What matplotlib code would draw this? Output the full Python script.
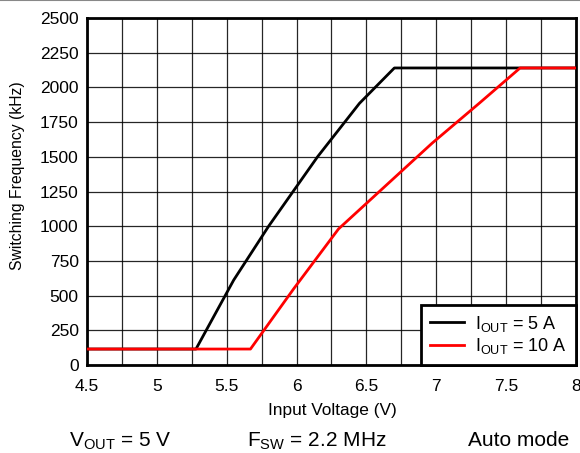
import matplotlib
matplotlib.use("Agg")
import matplotlib.pyplot as plt
from matplotlib.lines import Line2D
import numpy as np

plt.rcParams['font.family'] = ['Liberation Sans', 'DejaVu Sans']
plt.rcParams['mathtext.fontset'] = 'custom'
plt.rcParams['mathtext.rm'] = 'Liberation Sans'
plt.rcParams['mathtext.it'] = 'Liberation Sans'

# Data
vin_5a = [4.5, 5.28, 5.55, 5.8, 6.15, 6.45, 6.7, 8.0]
fsw_5a = [115, 115, 612, 1000, 1500, 1885, 2140, 2140]
vin_10a = [4.5, 5.67, 5.98, 6.3, 6.97, 7.31, 7.6, 8.0]
fsw_10a = [115, 115, 550, 980, 1598, 1888, 2140, 2140]
labels = [r'I$_{\mathrm{OUT}}$ = 5 A', r'I$_{\mathrm{OUT}}$ = 10 A']
xticks = [4.5, 5, 5.5, 6, 6.5, 7, 7.5, 8]
xticklabels = ['4.5', '5', '5.5', '6', '6.5', '7', '7.5', '8']
yticks = [0, 250, 500, 750, 1000, 1250, 1500, 1750, 2000, 2250, 2500]

fig = plt.figure(figsize=(5.8, 4.53), dpi=100)
ax = fig.add_axes([87/580, 1-365/453, (576-87)/580, (365-18)/453])

ax.plot(vin_5a, fsw_5a, color='black', lw=2, label=labels[0], zorder=3)
ax.plot(vin_10a, fsw_10a, color='#ff0000', lw=2, label=labels[1], zorder=3)

ax.set_xlim(4.5, 8)
ax.set_ylim(0, 2500)
ax.set_xticks(xticks)
ax.set_xticklabels(xticklabels)
ax.set_xticks(np.arange(4.5, 8.01, 0.25), minor=True)
ax.set_yticks(yticks)
ax.tick_params(axis='both', which='both', length=0, labelsize=12.5)
ax.tick_params(axis='x', pad=10)
ax.tick_params(axis='y', pad=6)
ax.grid(True, which='both', color='black', lw=0.9, alpha=0.85)
ax.set_axisbelow(True)
for s in ax.spines.values():
    s.set_linewidth(2)
ax.set_xlabel('Input Voltage (V)', fontsize=12.4)
ax.set_ylabel('Switching Frequency (kHz)', fontsize=11.3)
ax.xaxis.set_label_coords(332/580, 1-410/453, transform=fig.transFigure)
ax.xaxis.label.set_va('center')
ax.yaxis.set_label_coords(18/580, 1-176/453, transform=fig.transFigure)
ax.yaxis.label.set_va('center')

leg = ax.legend(loc='lower right', fontsize=13, frameon=True, fancybox=False,
                borderaxespad=0, handlelength=1.9, handletextpad=0.6,
                borderpad=0.5, labelspacing=0.12)
leg.get_frame().set_edgecolor('black')
leg.get_frame().set_linewidth(2)
leg.get_frame().set_alpha(1)

fig.text(120/580, 1-441/453, r'V$_{\mathrm{OUT}}$ = 5 V', fontsize=15, ha='center', va='center')
fig.text(317/580, 1-441/453, r'F$_{\mathrm{SW}}$ = 2.2 MHz', fontsize=15, ha='center', va='center')
fig.text(519/580, 1-441/453, 'Auto mode', fontsize=15, ha='center', va='center')

fig.add_artist(Line2D([0, 1], [0.999, 0.999], transform=fig.transFigure, color='#888888', lw=1.5))

fig.savefig('out.png', dpi=100)
